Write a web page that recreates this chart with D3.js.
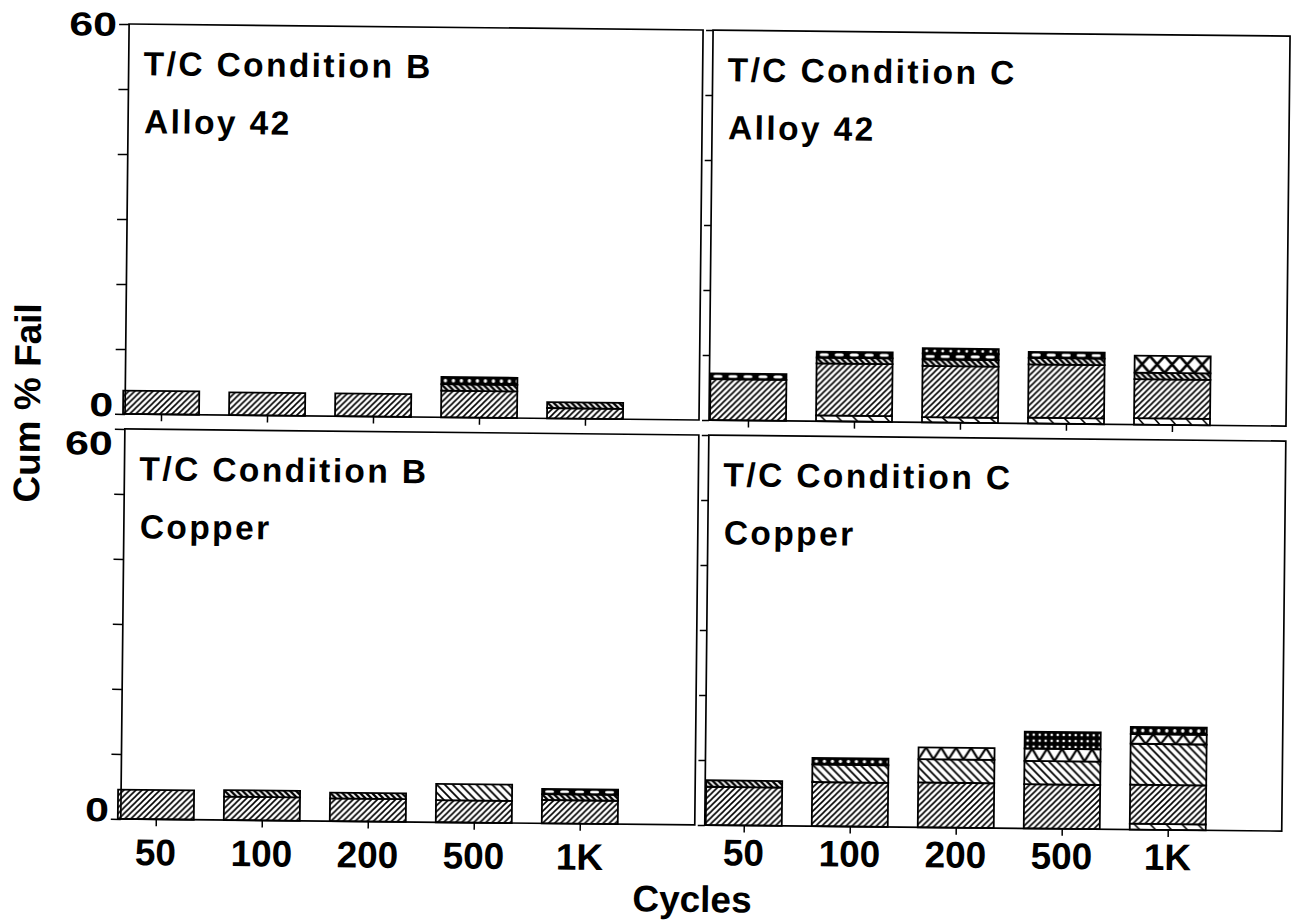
<!DOCTYPE html>
<html>
<head>
<meta charset="utf-8">
<script src="https://cdn.jsdelivr.net/npm/d3@7"></script>
<style>
  html, body { margin: 0; padding: 0; background: #fff; }
  svg { display: block; }
  text { font-family: "Liberation Sans", Arial, Helvetica, sans-serif; font-weight: bold; fill: #000; }
</style>
</head>
<body>
<svg id="chart" width="1296" height="921"></svg>
<script>
// ---------------- DATA ----------------
const categories = ["50", "100", "200", "500", "1K"];
const yTickValues = [0, 10, 20, 30, 40, 50, 60];
const yLabelValues = [0, 60];
const seriesOrder = ["sparse", "diag", "smallHatch", "backHatch", "dash", "zigzag", "cross", "crossDots", "dots"];

// Cum % Fail, stacked by failure type (pattern), per cycle count
const condB_alloy42 = {
  diag:       [3.6, 3.5, 3.5, 4.1, 1.6],
  smallHatch: [0,   0,   0,   1.0, 0.9],
  dots:       [0,   0,   0,   1.1, 0]
};
const condC_alloy42 = {
  sparse:     [0,   0.9, 0.8, 0.9, 1.0],
  diag:       [6.3, 8.0, 7.9, 8.2, 6.0],
  smallHatch: [0,   0.9, 1.0, 1.0, 1.0],
  dash:       [0.9, 0.9, 0.9, 0.9, 0],
  cross:      [0,   0,   0,   0,   2.6],
  dots:       [0,   0,   0.8, 0,   0]
};
const condB_copper = {
  diag:       [4.5, 3.6, 3.5, 3.4, 3.6],
  smallHatch: [0,   1.0, 0.9, 0,   0.9],
  backHatch:  [0,   0,   0,   2.5, 0],
  dash:       [0,   0,   0,   0,   0.8]
};
const condC_copper = {
  sparse:     [0,   0,   0,   0,   0.9],
  diag:       [5.9, 6.8, 6.9, 6.8, 6.0],
  smallHatch: [1.0, 0,   0,   0,   0],
  backHatch:  [0,   2.7, 3.6, 3.6, 6.3],
  zigzag:     [0,   0,   1.8, 1.9, 1.5],
  crossDots:  [0,   0,   0,   2.6, 0],
  dots:       [0,   1.0, 0,   0,   1.1]
};

const panelTitles = ["T/C Condition B", "T/C Condition C", "T/C Condition B", "T/C Condition C"];
const panelSubtitles = ["Alloy 42", "Alloy 42", "Copper", "Copper"];
const yAxisTitle = "Cum % Fail";
const xAxisTitle = "Cycles";

// ---------------- LAYOUT ----------------
const panels = [
  { data: condB_alloy42, x0: 125, x1: 699, y0: 30,  y1: 420, first: 36, showY: true,  showX: false, lab60: 0 },
  { data: condC_alloy42, x0: 709, x1: 1286, y0: 30, y1: 420, first: 39, showY: false, showX: false },
  { data: condB_copper,  x0: 125, x1: 699, y0: 435, y1: 825, first: 35, showY: true,  showX: true, labOff: 46, lab60: 14 },
  { data: condC_copper,  x0: 709, x1: 1286, y0: 435, y1: 825, first: 39, showY: false, showX: true, labOff: 40 }
];
const step = 106, barW = 76;

const svg = d3.select("#chart");
svg.append("rect").attr("width", 1296).attr("height", 921).attr("fill", "#fff");
const defs = svg.append("defs");
const root = svg.append("g").attr("transform", "rotate(0.6,700,420)");

let pid = 0;
function makePattern(type, x, y, w, h) {
  const id = "pat" + (pid++);
  const p = defs.append("pattern").attr("id", id)
    .attr("patternUnits", "userSpaceOnUse").attr("x", x).attr("y", y);
  const bg = (c, pw, ph) => p.append("rect").attr("width", pw).attr("height", ph).attr("fill", c);
  if (type === "diag") {
    p.attr("width", 6).attr("height", 6); bg("#fff", 6, 6);
    p.append("path").attr("d", "M-3,3 L3,-3 M0,6 L6,0 M3,9 L9,3")
      .attr("stroke", "#000").attr("stroke-width", 1.6);
  } else if (type === "backHatch") {
    p.attr("width", 8).attr("height", 8); bg("#fff", 8, 8);
    p.append("path").attr("d", "M-4,4 L4,12 M0,0 L8,8 M4,-4 L12,4")
      .attr("stroke", "#000").attr("stroke-width", 1.8);
  } else if (type === "smallHatch") {
    p.attr("width", 6).attr("height", 6); bg("#fff", 6, 6);
    p.append("path").attr("d", "M-3,3 L3,9 M0,0 L6,6 M3,-3 L9,3")
      .attr("stroke", "#000").attr("stroke-width", 2.3);
  } else if (type === "sparse") {
    p.attr("width", 16).attr("height", h); bg("#fff", 16, h);
    p.append("path").attr("d", `M4,0 L10,${h}`)
      .attr("stroke", "#000").attr("stroke-width", 1.6);
  } else if (type === "dash") {
    p.attr("width", 15).attr("height", h); bg("#000", 15, h);
    p.append("rect").attr("x", 3).attr("y", h * 0.25).attr("width", 9).attr("height", h * 0.5)
      .attr("rx", 2).attr("fill", "#fff");
  } else if (type === "dots") {
    p.attr("width", 8).attr("height", h); bg("#000", 8, h);
    p.append("circle").attr("cx", 4).attr("cy", h / 2).attr("r", Math.min(1.7, h * 0.28)).attr("fill", "#fff");
  } else if (type === "zigzag") {
    p.attr("width", 15).attr("height", h); bg("#fff", 15, h);
    p.append("path").attr("d", `M0,${h} L7.5,0 L15,${h}`).attr("fill", "none")
      .attr("stroke", "#000").attr("stroke-width", 2.2);
  } else if (type === "cross") {
    p.attr("width", 15).attr("height", h); bg("#fff", 15, h);
    p.append("path").attr("d", `M0,0 L15,${h} M15,0 L0,${h}`).attr("fill", "none")
      .attr("stroke", "#000").attr("stroke-width", 2.6);
  } else if (type === "crossDots") {
    p.attr("width", 6).attr("height", 6); bg("#000", 6, 6);
    p.append("circle").attr("cx", 3).attr("cy", 3).attr("r", 1.3).attr("fill", "#fff");
  }
  return "url(#" + id + ")";
}

panels.forEach((P, pi) => {
  const g = root.append("g");
  const x = d3.scaleLinear().domain([0, categories.length - 1])
    .range([P.x0 + P.first, P.x0 + P.first + step * (categories.length - 1)]);
  const y = d3.scaleLinear().domain([0, 60]).range([P.y1, P.y0]);

  // stacked data
  const keys = seriesOrder.filter(k => P.data[k]);
  const rows = categories.map((c, i) => {
    const r = { cat: c, idx: i };
    keys.forEach(k => r[k] = P.data[k][i]);
    return r;
  });
  const stacked = d3.stack().keys(keys)(rows);

  // bars
  stacked.forEach(layer => {
    layer.forEach(d => {
      const v = d[1] - d[0];
      if (v <= 0) return;
      const bx = x(d.data.idx) - barW / 2;
      const by = y(d[1]);
      const bh = y(d[0]) - y(d[1]);
      g.append("rect")
        .attr("x", bx).attr("y", by).attr("width", barW).attr("height", bh)
        .attr("fill", makePattern(layer.key, bx, by, barW, bh))
        .attr("stroke", "#000").attr("stroke-width", 1.8);
    });
  });

  // frame
  g.append("rect").attr("x", P.x0).attr("y", P.y0)
    .attr("width", P.x1 - P.x0).attr("height", P.y1 - P.y0)
    .attr("fill", "none").attr("stroke", "#000").attr("stroke-width", 1.7);

  // y axis ticks
  const ya = g.append("g").attr("transform", `translate(${P.x0},0)`)
    .call(d3.axisLeft(y).tickValues(yTickValues).tickSize(P.showY ? 10 : 7).tickFormat(""));
  ya.select(".domain").remove();
  ya.selectAll("line").attr("stroke", "#000").attr("stroke-width", 1.5);

  // x axis ticks
  const xa = g.append("g").attr("transform", `translate(0,${P.y1})`)
    .call(d3.axisBottom(x).tickValues(d3.range(categories.length)).tickSize(7).tickFormat(""));
  xa.select(".domain").remove();
  xa.selectAll("line").attr("stroke", "#000").attr("stroke-width", 1.5);

  // y labels
  if (P.showY) {
    yLabelValues.forEach(v => {
      const cy = v === 0 ? y(v) - 9.5 : y(v) + P.lab60;
      g.append("text")
        .attr("transform", `translate(${P.x0 - 12},${cy + 12}) scale(1.3,1)`)
        .attr("text-anchor", "end").attr("font-size", 33).text(v);
    });
  }
  // x labels
  if (P.showX) {
    g.selectAll("text.xl").data(categories).enter().append("text").attr("class", "xl")
      .attr("x", (d, i) => x(i)).attr("y", P.y1 + P.labOff)
      .attr("text-anchor", "middle").attr("font-size", 37).text(d => d);
  }

  // titles
  g.append("text").attr("x", P.x0 + 15).attr("y", P.y0 + 51)
    .attr("font-size", 33.5).attr("letter-spacing", 2.4).text(panelTitles[pi]);
  g.append("text").attr("x", P.x0 + 16).attr("y", P.y0 + 109)
    .attr("font-size", 33.5).attr("letter-spacing", 2.4).text(panelSubtitles[pi]);
});

// axis titles
root.append("text").attr("transform", "translate(40,410) rotate(-90)")
  .attr("text-anchor", "middle").attr("font-size", 37).text(yAxisTitle);
root.append("text").attr("x", 697).attr("y", 912)
  .attr("text-anchor", "middle").attr("font-size", 37).text(xAxisTitle);
</script>
</body>
</html>
